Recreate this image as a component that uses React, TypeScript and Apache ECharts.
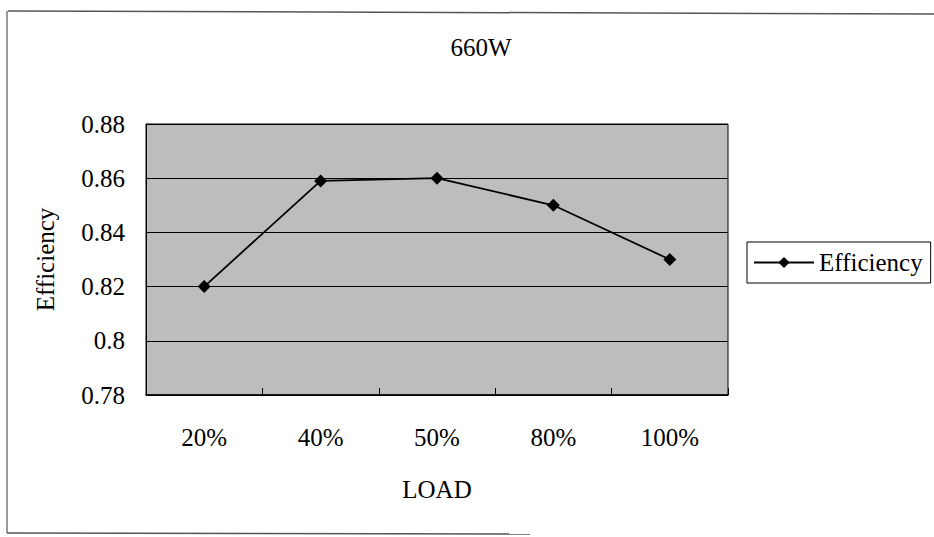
import React, { useEffect, useRef } from "react";
import * as echarts from "echarts";

const categories = ["20%", "40%", "50%", "80%", "100%"];
const efficiency = [0.82, 0.859, 0.86, 0.85, 0.83];
const titleText = "660W";
const seriesName = "Efficiency";
const xName = "LOAD";
const yName = "Efficiency";

const FONT = "Liberation Serif";

export default function App() {
  const ref = useRef<HTMLDivElement>(null);
  useEffect(() => {
    if (!ref.current) return;
    const chart = echarts.init(ref.current, undefined, { renderer: "svg" });
    chart.setOption({
      animation: false,
      backgroundColor: "#ffffff",
      textStyle: { fontFamily: FONT, color: "#000" },
      title: {
        text: titleText,
        left: 476,
        top: 30,
        textAlign: "center",
        textStyle: { fontFamily: FONT, fontSize: 25, fontWeight: "normal", color: "#000" },
      },
      legend: {
        left: 747,
        top: 242,
        orient: "vertical",
        itemWidth: 60,
        itemHeight: 14,
        itemGap: 0,
        padding: [8, 8, 8, 6],
        borderColor: "#000",
        borderWidth: 1,
        backgroundColor: "#fff",
        textStyle: { fontFamily: FONT, fontSize: 25, color: "#000" },
        data: [seriesName],
      },
      grid: {
        left: 146,
        top: 124,
        width: 582,
        height: 271,
        show: true,
        backgroundColor: "#bdbdbd",
        borderColor: "#000",
        borderWidth: 1,
      },
      xAxis: {
        type: "category",
        data: categories,
        boundaryGap: true,
        name: xName,
        nameLocation: "middle",
        nameGap: 82,
        nameTextStyle: { fontFamily: FONT, fontSize: 25, color: "#000" },
        axisLine: { lineStyle: { color: "#000", width: 1.5 } },
        axisTick: { show: true, inside: true, length: 7, lineStyle: { color: "#000" } },
        axisLabel: { margin: 30, fontFamily: FONT, fontSize: 25, color: "#000" },
      },
      yAxis: {
        type: "value",
        min: 0.78,
        max: 0.88,
        interval: 0.02,
        name: yName,
        nameLocation: "middle",
        nameGap: 88,
        nameTextStyle: { fontFamily: FONT, fontSize: 25, color: "#000" },
        axisLine: { show: true, lineStyle: { color: "#000" } },
        axisTick: { show: false },
        splitLine: { show: true, lineStyle: { color: "#000", width: 1 } },
        axisLabel: {
          margin: 21,
          fontFamily: FONT,
          fontSize: 25,
          color: "#000",
          formatter: (v: number) => String(parseFloat(v.toFixed(2))),
        },
      },
      graphic: [
        { type: "line", shape: { x1: 8, y1: 11, x2: 934, y2: 14 }, style: { stroke: "#555", lineWidth: 1.5 } },
        { type: "line", shape: { x1: 7, y1: 11, x2: 7, y2: 533 }, style: { stroke: "#777", lineWidth: 1.5 } },
        { type: "line", shape: { x1: 7, y1: 533, x2: 530, y2: 534 }, style: { stroke: "#555", lineWidth: 1.5 } },
      ],
      series: [
        {
          name: seriesName,
          type: "line",
          data: efficiency,
          symbol: "diamond",
          symbolSize: 13,
          itemStyle: { color: "#000" },
          lineStyle: { color: "#000", width: 1.8 },
        },
      ],
    });
    return () => chart.dispose();
  }, []);
  return (
    <div
      ref={ref}
      style={{ position: "fixed", left: 0, top: 0, width: 934, height: 537 }}
    />
  );
}
